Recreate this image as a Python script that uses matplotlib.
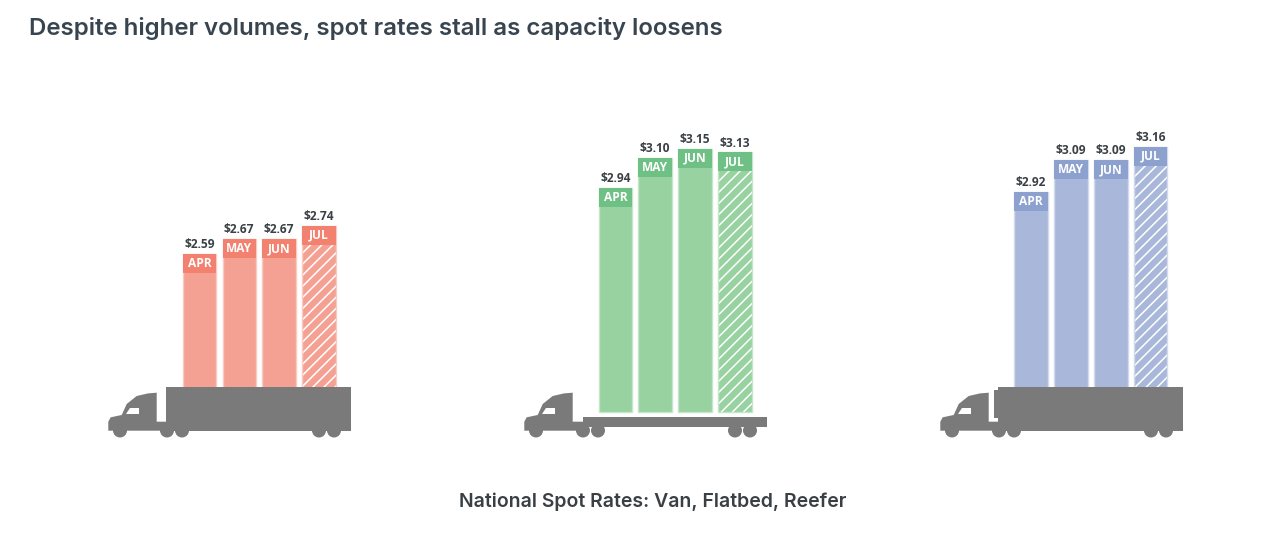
import matplotlib.pyplot as plt
from matplotlib.patches import Polygon, Circle, Rectangle

# chart values
months = ["APR", "MAY", "JUN", "JUL"]
van_rates = [2.59, 2.67, 2.67, 2.74]
flatbed_rates = [2.94, 3.10, 3.15, 3.13]
reefer_rates = [2.92, 3.09, 3.09, 3.16]

title_text = "Despite higher volumes, spot rates stall as capacity loosens"
footer_text = "National Spot Rates: Van, Flatbed, Reefer"

# 188 pixels per dollar, $2.59 sits at pixel row 254
PX_PER_DOLLAR = 188
Y_TOP = 2.59 + 254 / PX_PER_DOLLAR
Y_BOTTOM = Y_TOP - 540 / PX_PER_DOLLAR
BAND = 19 / PX_PER_DOLLAR
BAR_BASE = 1.75

GREY = "#7a7a7a"
TEXT = "#3a3f44"
plt.rcParams["hatch.linewidth"] = 1.1

fig = plt.figure(figsize=(12.73, 5.4), dpi=100, facecolor="white")

# bars use a dollar scale, x is in pixels
ax = fig.add_axes([0, 0, 1, 1])
ax.set_xlim(0, 1273)
ax.set_ylim(Y_BOTTOM, Y_TOP)
ax.axis("off")

# second axes in pixel coords for the trucks
truck_ax = fig.add_axes([0, 0, 1, 1], zorder=5)
truck_ax.set_xlim(0, 1273)
truck_ax.set_ylim(540, 0)
truck_ax.axis("off")
truck_ax.patch.set_alpha(0)


def draw_bars(rates, left, fill, band_color, edge):
    for i, (month, rate) in enumerate(zip(months, rates)):
        x = left + i * 39.8
        if month == "JUL":
            ax.bar(x, rate - BASE_OFFSET(), bottom=BAR_BASE, width=33.5, align="edge",
                   facecolor=fill, edgecolor="white", hatch="///", linewidth=0)
            ax.bar(x, rate - BAR_BASE, bottom=BAR_BASE, width=33.5, align="edge",
                   facecolor="none", edgecolor=edge, linewidth=1)
        else:
            ax.bar(x, rate - BAR_BASE, bottom=BAR_BASE, width=33.5, align="edge",
                   facecolor=fill, edgecolor=edge, linewidth=1)
        ax.bar(x, BAND, bottom=rate - BAND, width=33.5, align="edge", color=band_color, linewidth=0)
        ax.text(x + 16.75, rate - BAND / 2, month, color="white", fontsize=8.6, fontweight="bold",
                family="Open Sans", ha="center", va="center")
        ax.annotate(f"${rate:.2f}", (x + 16.75, rate), xytext=(0, 2), textcoords="offset points",
                    color=TEXT, fontsize=8.6, fontweight="bold", family="Open Sans",
                    ha="center", va="bottom")


def BASE_OFFSET():
    return BAR_BASE


def draw_cab(dx):
    cab = [(108.3, 430.7), (108.3, 421.7), (110.7, 417.3), (121.7, 415), (126.7, 404),
           (136.7, 396), (148, 393.4), (156.7, 392.7), (156.7, 421.7), (170, 421.7), (170, 430.7)]
    truck_ax.add_patch(Polygon([(x + dx, y) for x, y in cab], color=GREY, lw=0))
    window = [(130, 407.5), (139.3, 407.5), (139.3, 414), (126, 414)]
    truck_ax.add_patch(Polygon([(x + dx, y) for x, y in window], color="white", lw=0))


def draw_wheels(dx):
    for wx in [120, 167, 182, 319, 334]:
        truck_ax.add_patch(Circle((wx + dx, 430.5), 7, color=GREY, lw=0))


draw_bars(van_rates, 182.7, "#f4a193", "#f28170", "#f9cbc2")
draw_bars(flatbed_rates, 598.6, "#97d2a0", "#6fc085", "#c6e6cb")
draw_bars(reefer_rates, 1014.4, "#a9b8da", "#8da1cf", "#d2daec")

# van
draw_cab(0)
draw_wheels(0)
truck_ax.add_patch(Rectangle((166, 387.3), 185, 44, color=GREY, lw=0))
# flatbed
draw_cab(416)
draw_wheels(416)
truck_ax.add_patch(Rectangle((582.7, 416.7), 184, 10, color=GREY, lw=0))
# reefer
draw_cab(832)
draw_wheels(832)
truck_ax.add_patch(Rectangle((998.3, 387.3), 184.5, 44, color=GREY, lw=0))
truck_ax.add_patch(Rectangle((994, 390), 5, 28, color=GREY, lw=0))

fig.text(29 / 1273, 1 - 28 / 540, title_text, fontsize=17.3, fontweight="semibold",
         family="Inter", color="#38444f", ha="left", va="center")
fig.text(652.5 / 1273, 1 - 502 / 540, footer_text, fontsize=14, fontweight="semibold",
         family="Inter", color=TEXT, ha="center", va="center")

fig.savefig("out.png", dpi=100)
